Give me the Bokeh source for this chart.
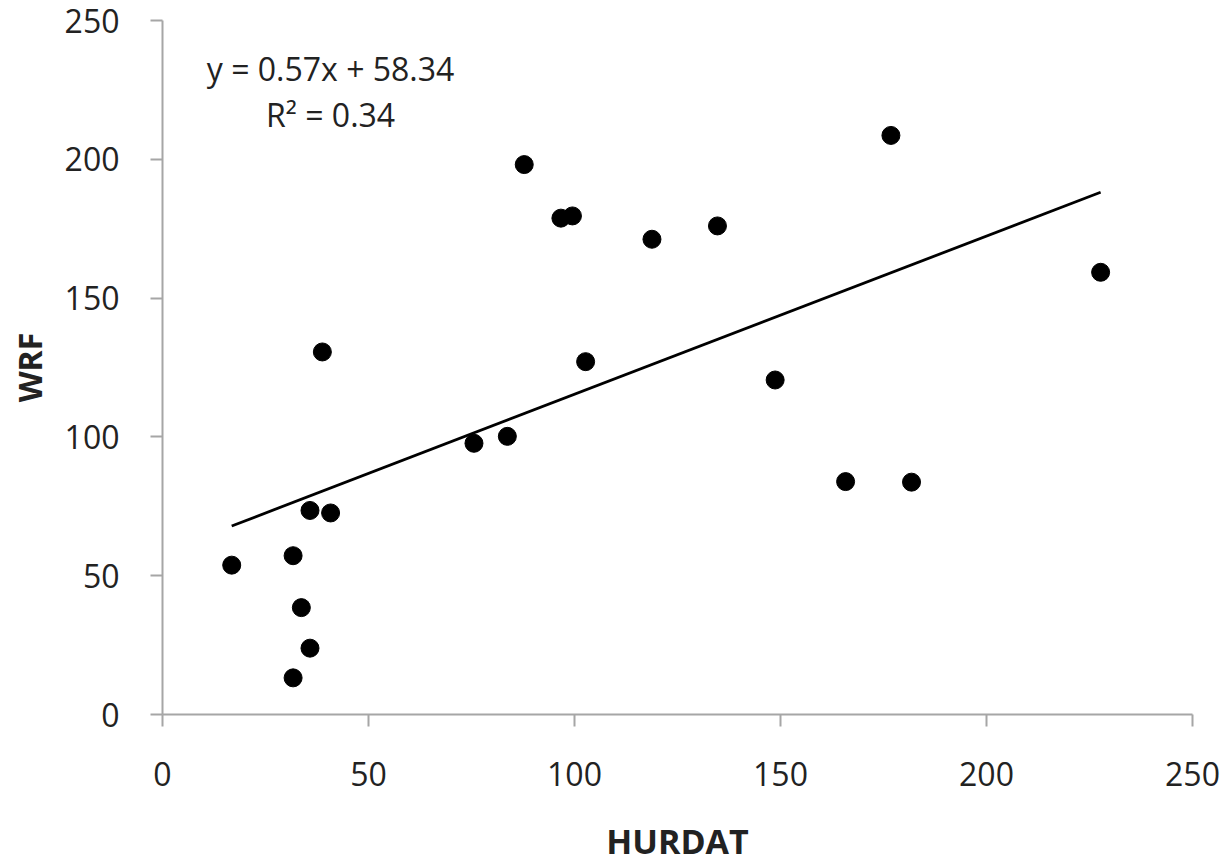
from bokeh.plotting import figure
from bokeh.models import Range1d, Label, FixedTicker
from bokeh.embed import file_html
from bokeh.resources import INLINE

# Data
hurdat = [16.8, 31.7, 33.7, 35.8, 31.7, 35.8, 40.8, 38.8, 75.6, 83.7, 102.7,
          87.8, 96.7, 99.5, 118.8, 134.7, 176.8, 148.7, 165.8, 181.8, 227.7]
wrf = [53.8, 57.2, 38.5, 23.9, 13.2, 73.5, 72.6, 130.6, 97.7, 100.2, 127.1,
       198.1, 178.8, 179.6, 171.2, 176.0, 208.6, 120.5, 83.9, 83.7, 159.3]
slope = 0.57
intercept = 58.34
r2 = 0.34
ticks = [0, 50, 100, 150, 200, 250]

FONT = "Open Sans"
AXIS_GRAY = "#a6a6a6"
TEXT = "#222222"

p = figure(width=1225, height=866, output_backend="svg", toolbar_location=None,
           x_range=Range1d(0, 250), y_range=Range1d(0, 250),
           min_border_left=162, min_border_right=33, min_border_top=20,
           min_border_bottom=146)
p.outline_line_color = None
p.xgrid.grid_line_color = None
p.ygrid.grid_line_color = None
p.background_fill_color = "white"
p.border_fill_color = "white"

for ax in (p.xaxis[0], p.yaxis[0]):
    ax.ticker = FixedTicker(ticks=ticks)
    ax.axis_line_color = AXIS_GRAY
    ax.axis_line_width = 2
    ax.major_tick_line_color = AXIS_GRAY
    ax.major_tick_line_width = 2
    ax.major_tick_in = 0
    ax.major_tick_out = 12
    ax.minor_tick_line_color = None
    ax.major_label_text_font = FONT
    ax.major_label_text_font_size = "32px"
    ax.major_label_text_color = TEXT
    ax.axis_label_text_font = FONT
    ax.axis_label_text_font_style = "bold"
    ax.axis_label_text_color = TEXT

p.xaxis.axis_label = "HURDAT"
p.yaxis.axis_label = "WRF"
p.xaxis.axis_label_text_font_size = "34px"
p.yaxis.axis_label_text_font_size = "32px"
p.xaxis.major_label_standoff = 35
p.yaxis.major_label_standoff = 31
p.xaxis.axis_label_standoff = 29
p.yaxis.axis_label_standoff = 11

# Trend line from the stated fit
x0, x1 = min(hurdat), max(hurdat)
p.line([x0, x1], [slope * x0 + intercept, slope * x1 + intercept],
       line_color="black", line_width=2.8)

p.scatter(hurdat, wrf, size=18, color="black")

p.add_layout(Label(x=40.8, y=232.6, text=f"y = {slope:.2f}x + {intercept:.2f}",
                   text_align="center", text_baseline="alphabetic",
                   text_font=FONT, text_font_size="32px", text_color=TEXT))
p.add_layout(Label(x=40.8, y=216.3, text=f"R² = {r2:.2f}",
                   text_align="center", text_baseline="alphabetic",
                   text_font=FONT, text_font_size="32px", text_color=TEXT))

open("out.html", "w").write(file_html(p, INLINE))
